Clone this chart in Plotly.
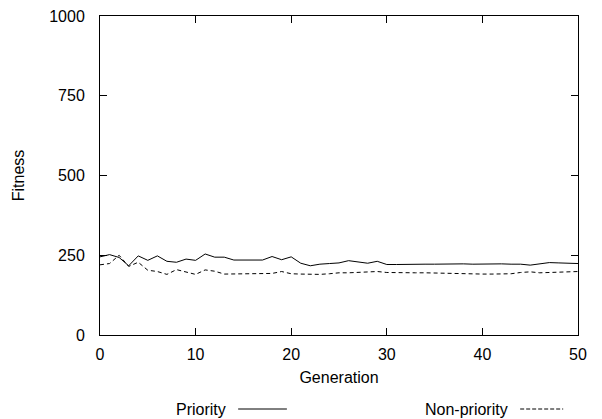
import plotly.graph_objects as go

generations = list(range(0, 51))
priority = [245, 252, 243, 217, 248, 234, 248, 231, 228, 238,
            234, 254, 244, 244, 235, 235, 235, 235, 246, 236,
            245, 225, 217, 222, 224, 226, 233, 228, 225, 231,
            221, 221, 222, 222, 222, 222, 223, 224, 223, 222,
            223, 223, 223, 222, 222, 219, 223, 227, 226, 225, 224]
non_priority = [220, 224, 250, 215, 228, 203, 199, 190, 205, 197,
                190, 204, 200, 191, 191, 191, 191, 191, 193, 199,
                192, 191, 190, 190, 192, 195, 195, 197, 199, 199,
                196, 195, 195, 195, 195, 194, 194, 193, 193, 192,
                191, 191, 191, 192, 196, 198, 195, 196, 197, 198, 199]
x_ticks = [0, 10, 20, 30, 40, 50]
y_ticks = [0, 250, 500, 750, 1000]

FONT = "Liberation Sans, Arial, sans-serif"
FS = 16
fig = go.Figure()
fig.add_trace(go.Scatter(x=generations, y=priority, mode="lines", name="Priority",
                         line=dict(color="black", width=1)))
fig.add_trace(go.Scatter(x=generations, y=non_priority, mode="lines", name="Non-priority",
                         line=dict(color="black", width=1, dash="4px,3px")))

axis_common = dict(showline=True, linecolor="black", linewidth=1, mirror="ticks",
                   ticks="inside", ticklen=7, tickcolor="black", tickwidth=1,
                   showgrid=False, zeroline=False, automargin=False,
                   ticklabeloverflow="allow",
                   tickfont=dict(family=FONT, size=FS, color="black"))
fig.update_xaxes(range=[0, 50], tickvals=x_ticks, ticktext=[str(v) for v in x_ticks],
                 ticklabelstandoff=5,
                 title=dict(text="Generation", font=dict(family=FONT, size=FS, color="black"), standoff=9),
                 **axis_common)
fig.update_yaxes(range=[0, 1000], tickvals=y_ticks, ticktext=[str(v) for v in y_ticks],
                 ticklabelstandoff=11,
                 title=dict(text="Fitness", font=dict(family=FONT, size=FS, color="black"), standoff=20),
                 **axis_common)

# legend in gnuplot style: text followed by line sample
fig.add_annotation(x=0.268, y=-0.232, xref="paper", yref="paper", text="Priority",
                   showarrow=False, xanchor="right", yanchor="middle",
                   font=dict(family=FONT, size=FS, color="black"))
fig.add_annotation(x=0.858, y=-0.232, xref="paper", yref="paper", text="Non-priority",
                   showarrow=False, xanchor="right", yanchor="middle",
                   font=dict(family=FONT, size=FS, color="black"))
fig.add_shape(type="line", xref="paper", yref="paper", x0=0.289, x1=0.391, y0=-0.232, y1=-0.232,
              line=dict(color="black", width=1))
fig.add_shape(type="line", xref="paper", yref="paper", x0=0.879, x1=0.969, y0=-0.232, y1=-0.232,
              line=dict(color="black", width=1, dash="4px,2px"))

# page body has an 8px default margin; offset the figure margins to compensate
fig.update_layout(width=594, height=411, showlegend=False,
                  margin=dict(l=92, r=24, t=8, b=84),
                  paper_bgcolor="white", plot_bgcolor="white",
                  font=dict(family=FONT, size=FS, color="black"))
fig.write_html("out.html")
